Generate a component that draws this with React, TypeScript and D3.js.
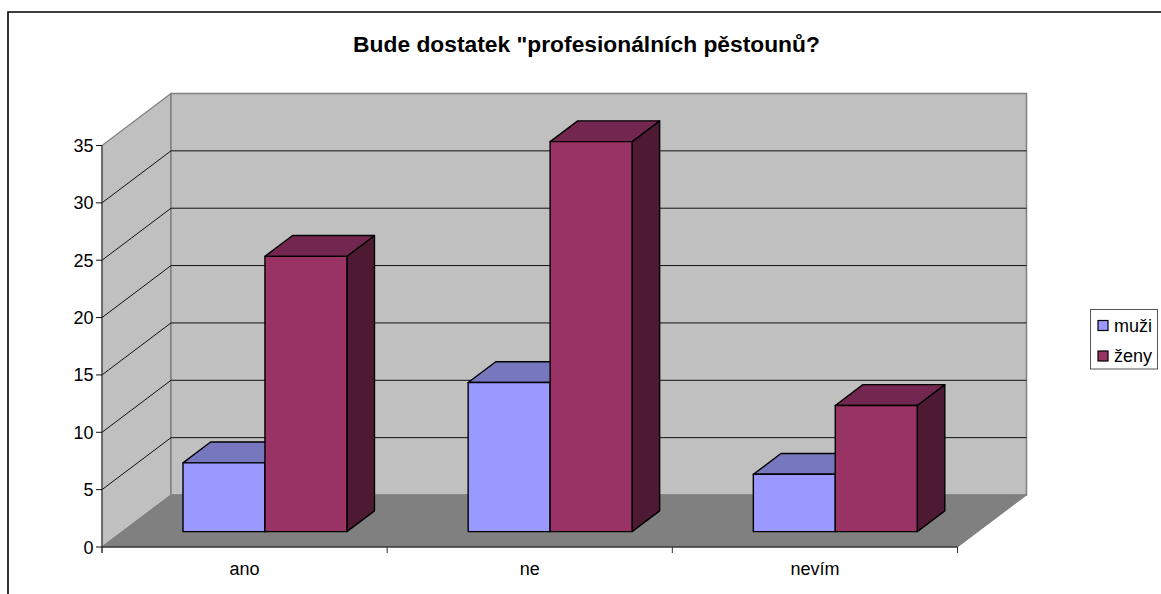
import React from "react";
import * as d3 from "d3";

const categories = ["ano", "ne", "nevím"];
const seriesNames = ["muži", "ženy"];
const muzi = [6, 13, 5];
const zeny = [24, 34, 11];
const yTicks = [0, 5, 10, 15, 20, 25, 30, 35];
const titleText = 'Bude dostatek "profesionálních pěstounů?';
const frontColors = ["#9999FF", "#993366"];
const topColors = ["#7777BF", "#732650"];
const sideColors = ["#5C5C99", "#4D1933"];

const W = 1161, H = 594;
const y = d3.scaleLinear().domain([0, 35]).range([547, 145.5]);
const x = d3.scaleBand<string>().domain(categories).range([102, 957.5]).padding(0);
const inner = d3.scaleBand<string>().domain(seriesNames).range([0, x.bandwidth()]).paddingInner(0).paddingOuter(0.74);
const depthX = d3.scaleLinear().domain([0, 1]).range([0, 69]);
const depthY = d3.scaleLinear().domain([0, 1]).range([0, -52]);
const P = (px: number, v: number, d: number): [number, number] => [px + depthX(d), y(v) + depthY(d)];
const poly = (pts: [number, number][]) => d3.line()(pts)! + "Z";
const D0 = 0.295, D1 = 0.695;
const values = [muzi, zeny];

export default function App() {
  const x0 = 102, x1 = 957.5;
  return (
    <svg width={W} height={H} style={{ position: "absolute", left: 0, top: 0, background: "#fff", fontFamily: "'Liberation Sans', Arial, sans-serif" }}>
      <path d={`M8 ${H}V12H${W}`} fill="none" stroke="#000" strokeWidth={1.6} />
      <text x={586.5} y={52} textAnchor="middle" fontSize={22.8} fontWeight="bold" fill="#000">{titleText}</text>

      {/* walls */}
      <path d={poly([P(x0, 0, 0), P(x0, 0, 1), P(x0, 35, 1), P(x0, 35, 0)])} fill="#C0C0C0" stroke="#808080" strokeWidth={1.2} />
      <path d={poly([P(x0, 0, 1), P(x1, 0, 1), P(x1, 35, 1), P(x0, 35, 1)])} fill="#C0C0C0" stroke="#808080" strokeWidth={1.5} />
      <path d={poly([P(x0, 0, 0), P(x1, 0, 0), P(x1, 0, 1), P(x0, 0, 1)])} fill="#808080" stroke="#808080" />
      {yTicks.slice(1, -1).map((t) => (
        <path key={t} d={d3.line()([P(x0, t, 0), P(x0, t, 1), P(x1, t, 1)])!} fill="none" stroke="#111" strokeWidth={1} />
      ))}

      {/* bars */}
      {categories.map((c, ci) =>
        seriesNames.map((s, si) => {
          const v = values[si][ci];
          const l = x(c)! + inner(s)!;
          const r = l + inner.bandwidth();
          const st = { stroke: "#000", strokeWidth: 1.4, strokeLinejoin: "round" as const };
          return (
            <g key={c + s}>
              <path d={poly([P(r, 0, D0), P(r, 0, D1), P(r, v, D1), P(r, v, D0)])} fill={sideColors[si]} {...st} />
              <path d={poly([P(l, v, D0), P(r, v, D0), P(r, v, D1), P(l, v, D1)])} fill={topColors[si]} {...st} />
              <path d={poly([P(l, 0, D0), P(r, 0, D0), P(r, v, D0), P(l, v, D0)])} fill={frontColors[si]} {...st} />
            </g>
          );
        })
      )}

      {/* axes */}
      <line x1={x0} x2={x0} y1={y(35)} y2={y(0) + 6} stroke="#333" strokeWidth={1} />
      <line x1={x0} x2={x1} y1={y(0)} y2={y(0)} stroke="#111" strokeWidth={1.2} />
      {yTicks.map((t) => (
        <g key={t}>
          <line x1={x0 - 6} x2={x0} y1={y(t)} y2={y(t)} stroke="#111" />
          <text x={x0 - 8.5} y={y(t) + 6.5} textAnchor="end" fontSize={18} fill="#000">{t}</text>
        </g>
      ))}
      {[...categories.map((c) => x(c)!), x1].map((p, i) => (
        <line key={i} x1={p} x2={p} y1={y(0)} y2={y(0) + 6} stroke="#333" />
      ))}
      {categories.map((c) => (
        <text key={c} x={x(c)! + x.bandwidth() / 2} y={575} textAnchor="middle" fontSize={18} fill="#000">{c}</text>
      ))}

      {/* legend */}
      <rect x={1090.5} y={309.5} width={67} height={59.5} fill="#fff" stroke="#555" strokeWidth={1} />
      {seriesNames.map((s, i) => (
        <g key={s}>
          <rect x={1098} y={320.5 + i * 30.5} width={10} height={10} fill={frontColors[i]} stroke="#000" strokeWidth={1.2} />
          <text x={1114} y={331.5 + i * 30.5} fontSize={18} fill="#000">{s}</text>
        </g>
      ))}
    </svg>
  );
}
